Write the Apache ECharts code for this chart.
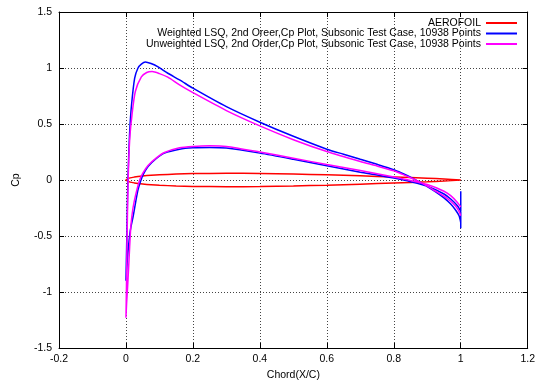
<!DOCTYPE html>
<html>
<head>
<meta charset="utf-8">
<script src="https://cdn.jsdelivr.net/npm/echarts@6/dist/echarts.min.js"></script>
<style>
  html, body { margin: 0; padding: 0; background: #fff; }
  #chart { width: 538px; height: 386px; }
</style>
</head>
<body>
<div id="chart"></div>
<script>
// series names
const NAME_FOIL = 'AEROFOIL';
const NAME_W = 'Weighted LSQ, 2nd Oreer,Cp Plot, Subsonic Test Case, 10938 Points';
const NAME_U = 'Unweighted LSQ, 2nd Order,Cp Plot, Subsonic Test Case, 10938 Points';

// aerofoil outline (x, y) from trailing edge over the top, back along the bottom
const foilX = [1.0, 0.95, 0.9, 0.8, 0.7, 0.6, 0.5, 0.4, 0.3, 0.2, 0.15, 0.1, 0.075, 0.05, 0.025, 0.0125, 0.0,
               0.0125, 0.025, 0.05, 0.075, 0.1, 0.15, 0.2, 0.3, 0.4, 0.5, 0.6, 0.7, 0.8, 0.9, 0.95, 1.0];
const foilY = [0.0, 0.009, 0.016, 0.027, 0.037, 0.046, 0.053, 0.058, 0.060, 0.057, 0.053, 0.047, 0.042, 0.035, 0.026, 0.019, 0.0,
               -0.019, -0.026, -0.035, -0.042, -0.047, -0.053, -0.057, -0.060, -0.058, -0.053, -0.046, -0.037, -0.027, -0.016, -0.009, 0.0];

// weighted LSQ: upper (peak) branch from trailing edge to leading edge
const wUpX = [1.0, 0.995, 0.985, 0.97, 0.95, 0.925, 0.9, 0.875, 0.85, 0.825, 0.8, 0.75, 0.7, 0.65, 0.6, 0.5, 0.4, 0.3, 0.2, 0.16, 0.125, 0.096, 0.075, 0.058, 0.046, 0.036, 0.026, 0.0166, 0.0116, 0.008, 0.005, 0.003, 0.001, 0.0];
const wUpY = [-0.38, -0.32, -0.27, -0.215, -0.16, -0.105, -0.058, -0.015, 0.025, 0.06, 0.092, 0.14, 0.185, 0.23, 0.275, 0.39, 0.516, 0.655, 0.82, 0.894, 0.953, 1.01, 1.04, 1.054, 1.035, 1.0, 0.91, 0.67, 0.46, 0.2, -0.1, -0.45, -0.75, -0.9];
// weighted LSQ: lower loop from leading edge to trailing edge, then the trailing-edge stroke
const wLoX = [0.0, 0.004, 0.008, 0.013, 0.0214, 0.03, 0.036, 0.045, 0.051, 0.066, 0.09, 0.115, 0.16, 0.2, 0.25, 0.3, 0.4, 0.5, 0.6, 0.7, 0.75, 0.8, 0.85, 0.9, 0.95, 0.97, 0.99, 1.0, 1.0, 1.0];
const wLoY = [-0.9, -0.72, -0.58, -0.45, -0.326, -0.18, -0.087, 0.0, 0.046, 0.12, 0.19, 0.24, 0.275, 0.287, 0.29, 0.285, 0.24, 0.185, 0.127, 0.07, 0.045, 0.017, -0.015, -0.055, -0.125, -0.17, -0.23, -0.28, -0.10, -0.43];

// unweighted LSQ
const uUpX = [1.0, 0.995, 0.985, 0.97, 0.95, 0.925, 0.9, 0.875, 0.85, 0.825, 0.8, 0.75, 0.7, 0.6, 0.5, 0.4, 0.3, 0.2, 0.16, 0.125, 0.1, 0.078, 0.062, 0.046, 0.028, 0.018, 0.012, 0.008, 0.005, 0.003, 0.0015, 0.0];
const uUpY = [-0.32, -0.28, -0.235, -0.19, -0.145, -0.1, -0.055, -0.015, 0.02, 0.052, 0.082, 0.125, 0.165, 0.254, 0.36, 0.483, 0.62, 0.78, 0.849, 0.918, 0.95, 0.968, 0.96, 0.92, 0.79, 0.58, 0.4, 0.15, -0.2, -0.6, -0.95, -1.23];
const uLoX = [0.0, 0.002, 0.005, 0.0077, 0.011, 0.015, 0.021, 0.03, 0.041, 0.05, 0.066, 0.09, 0.115, 0.16, 0.2, 0.25, 0.3, 0.4, 0.5, 0.6, 0.7, 0.8, 0.85, 0.9, 0.95, 0.97, 0.99, 1.0];
const uLoY = [-1.23, -1.1, -0.95, -0.8, -0.6, -0.4, -0.25, -0.12, 0.0, 0.06, 0.13, 0.195, 0.245, 0.288, 0.30, 0.305, 0.3, 0.25, 0.195, 0.138, 0.085, 0.026, -0.005, -0.04, -0.1, -0.14, -0.2, -0.24];

const xTicks = { min: -0.2, max: 1.2, interval: 0.2 };
const yTicks = { min: -1.5, max: 1.5, interval: 0.5 };

function pairs(xs, ys) {
  return xs.map((x, i) => [x, ys[i]]);
}

const FONT = 'Liberation Sans, Arial, sans-serif';

const chart = echarts.init(document.getElementById('chart'), null, { renderer: 'canvas' });

const lineSeries = (name, data, color) => ({
  name, type: 'line', data,
  xAxisIndex: 0, yAxisIndex: 0,
  symbol: 'none', showSymbol: false, smooth: 0.25,
  lineStyle: { color, width: 1.5 },
  itemStyle: { color },
  emphasis: { disabled: true },
});

const axisCommon = {
  type: 'value',
  axisLine: { show: true, onZero: false, lineStyle: { color: '#000', width: 1 } },
  axisTick: { show: true, inside: true, length: 5, lineStyle: { color: '#000' } },
};

const legendCommon = {
  right: 20, orient: 'horizontal', align: 'right',
  itemWidth: 31, itemHeight: 10, padding: 0,
  itemStyle: { opacity: 0 },
  textStyle: { fontFamily: FONT, fontSize: 10.5, color: '#000' },
  selectedMode: false,
};

chart.setOption({
  animation: false,
  backgroundColor: '#fff',
  grid: { left: 59, right: 7, top: 12, bottom: 38 },
  legend: [
    { ...legendCommon, top: 17.5, data: [NAME_FOIL] },
    { ...legendCommon, top: 28, data: [NAME_W] },
    { ...legendCommon, top: 38.5, data: [NAME_U] },
  ],
  xAxis: [
    {
      ...axisCommon, position: 'bottom', ...xTicks,
      name: 'Chord(X/C)', nameLocation: 'middle', nameGap: 22,
      nameTextStyle: { fontFamily: FONT, fontSize: 10.5, color: '#000' },
      axisLabel: { fontFamily: FONT, fontSize: 10.5, color: '#000', margin: 6 },
      splitLine: { show: true, lineStyle: { color: '#444', type: [1, 2], width: 1 } },
    },
    { ...axisCommon, position: 'top', ...xTicks, axisLabel: { show: false }, splitLine: { show: false } },
  ],
  yAxis: [
    {
      ...axisCommon, position: 'left', ...yTicks,
      name: 'Cp', nameLocation: 'middle', nameGap: 37, nameRotate: 90,
      nameTextStyle: { fontFamily: FONT, fontSize: 10.5, color: '#000' },
      axisLabel: { fontFamily: FONT, fontSize: 10.5, color: '#000', margin: 7 },
      splitLine: { show: true, lineStyle: { color: '#444', type: [1, 2], width: 1 } },
    },
    { ...axisCommon, position: 'right', ...yTicks, axisLabel: { show: false }, splitLine: { show: false } },
  ],
  series: [
    lineSeries(NAME_FOIL, pairs(foilX, foilY), '#ff0000'),
    lineSeries(NAME_W, pairs(wUpX, wUpY).concat(pairs(wLoX, wLoY)), '#0000ff'),
    lineSeries(NAME_U, pairs(uUpX, uUpY).concat(pairs(uLoX, uLoY)), '#ff00ff'),
  ],
});
</script>
</body>
</html>
